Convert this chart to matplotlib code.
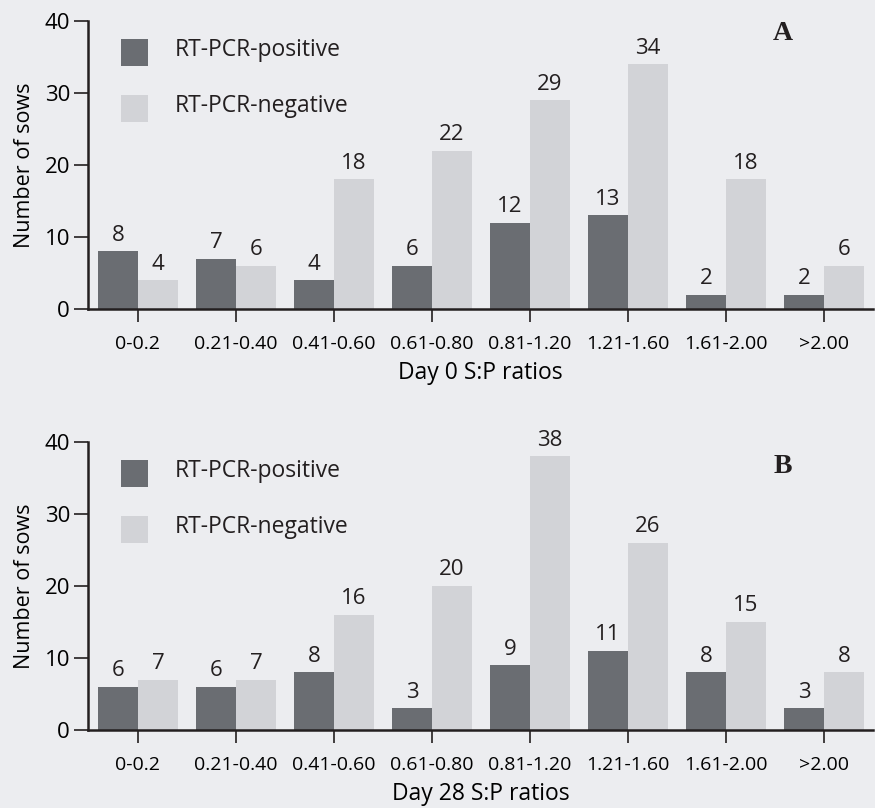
import matplotlib
matplotlib.use("Agg")
import matplotlib.pyplot as plt
from matplotlib.patches import Rectangle
import numpy as np

categories = ["0-0.2", "0.21-0.40", "0.41-0.60", "0.61-0.80", "0.81-1.20", "1.21-1.60", "1.61-2.00", ">2.00"]
day0_pos = [8, 7, 4, 6, 12, 13, 2, 2]
day0_neg = [4, 6, 18, 22, 29, 34, 18, 6]
day28_pos = [6, 6, 8, 3, 9, 11, 8, 3]
day28_neg = [7, 7, 16, 20, 38, 26, 15, 8]
series_labels = ["RT-PCR-positive", "RT-PCR-negative"]
panel_letters = ["A", "B"]
xlabels = ["Day 0 S:P ratios", "Day 28 S:P ratios"]
yticks = [0, 10, 20, 30, 40]

BG = "#ECEDF0"
DARK = "#6A6D72"
LIGHT = "#D2D3D7"
TXT = "#231F20"

plt.rcParams['font.family'] = ['Open Sans', 'DejaVu Sans']
plt.rcParams['text.color'] = TXT

fig = plt.figure(figsize=(8.75, 8.08), dpi=100, facecolor=BG)
W, H = 875, 808
left = 88 / W
width = (873 - 88) / W
axh = 288 / H
bottoms = [1 - 309 / H, 1 - 730 / H]
letter_y = [0.958, 0.915]

datasets = [(day0_pos, day0_neg), (day28_pos, day28_neg)]
x = np.arange(len(categories))
bw = 0.41

for i, (pos, neg) in enumerate(datasets):
    ax = fig.add_axes([left, bottoms[i], width, axh], facecolor=BG)
    b1 = ax.bar(x - bw / 2, pos, width=bw, color=DARK, zorder=2)
    b2 = ax.bar(x + bw / 2, neg, width=bw, color=LIGHT, zorder=2)
    for bars in (b1, b2):
        for r in bars:
            ax.annotate(f"{int(r.get_height())}", (r.get_x() + r.get_width() / 2, r.get_height()),
                        xytext=(0, 4), textcoords="offset points", ha="center", va="bottom",
                        fontsize=16, color=TXT)
    ax.set_xlim(-0.51, 7.5)
    ax.set_ylim(0, 40)
    ax.set_yticks(yticks)
    ax.set_xticks(x)
    ax.set_xticklabels(categories, fontsize=14)
    ax.tick_params(axis='y', labelsize=16, length=10, width=1.2, color=TXT, pad=3)
    ax.tick_params(axis='x', length=9, width=1.2, color=TXT, pad=10)
    for s in ("top", "right"):
        ax.spines[s].set_visible(False)
    for s in ("left", "bottom"):
        ax.spines[s].set_linewidth(1.8)
        ax.spines[s].set_color(TXT)
    ax.set_xlabel(xlabels[i], fontsize=16.5)
    ax.xaxis.set_label_coords(0.5, -0.18)
    ax.set_ylabel("Number of sows", fontsize=15.5)
    ax.yaxis.set_label_coords(-0.0815, 0.5)
    ax.yaxis.label.set_va('center')
    ax.text(0.885, letter_y[i], panel_letters[i], transform=ax.transAxes, fontsize=20, fontweight='bold',
            family='Liberation Serif', ha='center', va='center', color=TXT)
    # legend
    sq_w, sq_h = 27 / 785, 27 / 288
    for j, (c, lab) in enumerate(zip([DARK, LIGHT], series_labels)):
        ytop = (309 - 39 - 56 * j) / 288
        ax.add_patch(Rectangle((33 / 785, ytop - sq_h), sq_w, sq_h, transform=ax.transAxes,
                               facecolor=c, edgecolor='none', clip_on=False))
        ax.text(87 / 785, ytop - sq_h / 2 + 0.008, lab, transform=ax.transAxes, fontsize=16.5,
                ha='left', va='center', color=TXT)

fig.savefig("out.png", dpi=100, facecolor=BG)
